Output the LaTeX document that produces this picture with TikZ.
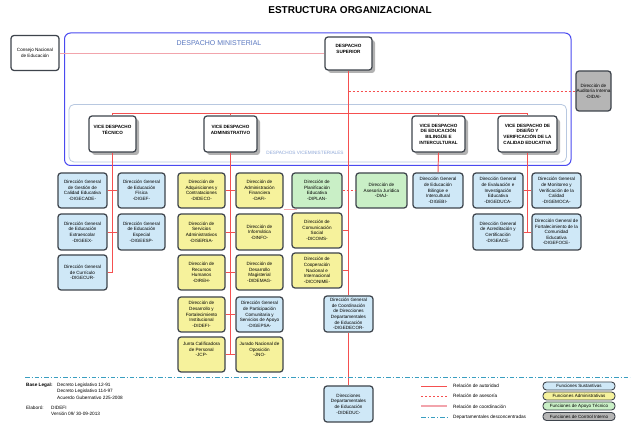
\documentclass[tikz,border=0pt]{standalone}
\usepackage{fontspec}
\setmainfont{Liberation Sans}
\usetikzlibrary{shadows}
\definecolor{susfill}{HTML}{CFE8F7}
\definecolor{admfill}{HTML}{F6F29C}
\definecolor{apofill}{HTML}{C9EFC6}
\definecolor{ctlfill}{HTML}{B5B5B5}
\definecolor{bord}{HTML}{3E444C}
\definecolor{authc}{HTML}{F55050}
\definecolor{coordc}{HTML}{F2A4AC}
\definecolor{deptc}{HTML}{3A9EC0}
\definecolor{minblue}{HTML}{4A4AF0}
\definecolor{vicec}{HTML}{B8C8E0}
\definecolor{mintxt}{HTML}{5A78C0}
\definecolor{vicetxt}{HTML}{8FA8D8}
\tikzset{
  unit/.style={draw=bord, line width=1.25pt, rounded corners=3pt, align=center,
    inner sep=0pt, font=\fontsize{4.6}{5.6}\selectfont},
  sus/.style={unit, fill=susfill},
  adm/.style={unit, fill=admfill},
  apo/.style={unit, fill=apofill},
  ctl/.style={unit, fill=ctlfill},
  plain/.style={unit, fill=white},
  vice/.style={unit, fill=white, font=\bfseries\fontsize{4.6}{5.7}\selectfont,
    drop shadow={shadow xshift=3pt, shadow yshift=-3pt, fill=black!30, opacity=1}},
  auth/.style={draw=authc, line width=0.95pt},
  asesor/.style={draw=authc, line width=0.8pt, dash pattern=on 2.4pt off 1.6pt},
  coordl/.style={draw=coordc, line width=1.1pt},
  deptl/.style={draw=deptc, line width=0.9pt, dash pattern=on 4.5pt off 2pt on 1pt off 2pt},
  legbox/.style={draw=bord, line width=0.9pt, rounded corners=3.5pt, inner sep=0pt,
    minimum width=72pt, minimum height=8pt, font=\fontsize{4.5}{5}\selectfont},
  legtxt/.style={anchor=west, inner sep=0pt, font=\fontsize{4.7}{5.5}\selectfont},
  foot/.style={anchor=west, inner sep=0pt, font=\fontsize{4.7}{5.5}\selectfont},
}
\newcommand\ubox[7]{\node[#2, minimum width={(#5-#3)*1pt}, minimum height={(#6-#4)*1pt}]
  (#1) at ({(#3+#5)/2},{(#4+#6)/2}) {#7};}
\begin{document}
\begin{tikzpicture}[x=1pt,y=-1pt]
\useasboundingbox[fill=white] (0,0) rectangle (640,427);

% title
\node[font=\bfseries\fontsize{10}{12}\selectfont, inner sep=0pt] (title) at (350,10) {ESTRUCTURA ORGANIZACIONAL};

% frames
\draw[minblue, line width=1pt, rounded corners=6pt] (64.5,33) rectangle (571,165.5);
\draw[vicec, line width=0.8pt, rounded corners=5pt] (69,104.5) rectangle (566.5,162);
\node[text=mintxt, font=\fontsize{7}{8}\selectfont, inner sep=0pt] (mintitle) at (219,43) {DESPACHO MINISTERIAL};
\node[text=vicetxt, font=\fontsize{4.7}{5.5}\selectfont, inner sep=0pt] (vicetitle) at (305,153) {DESPACHOS VICEMINISTERIALES};

% top level
\ubox{cne}{plain}{11}{35.5}{59}{70.5}{Consejo Nacional\\de Educación}
\ubox{ds}{vice}{325}{37}{372}{70}{DESPACHO\\SUPERIOR\\[4pt]}
\ubox{aud}{ctl}{576}{71}{611}{111}{Dirección de\\Auditoría Interna\\-DIDAI-}

% vice despachos
\ubox{vdt}{vice}{89}{116}{136}{152}{VICE DESPACHO\\TÉCNICO\\[3pt]}
\ubox{vda}{vice}{204}{116}{257}{152}{VICE DESPACHO\\ADMINISTRATIVO\\[3pt]}
\ubox{vdb}{vice}{412}{116}{465}{152}{VICE DESPACHO\\DE EDUCACIÓN\\BILINGÜE E\\INTERCULTURAL}
\ubox{vdd}{vice}{498}{116}{557}{152}{VICE DESPACHO DE\\DISEÑO Y\\VERIFICACIÓN DE LA\\CALIDAD EDUCATIVA}

% tecnico
\ubox{cade}{sus}{58}{173}{107}{208}{Dirección General\\de Gestión de\\Calidad Educativa\\-DIGECADE-}
\ubox{def}{sus}{118}{173}{165}{208}{Dirección General\\de Educación\\Física\\-DIGEF-}
\ubox{eex}{sus}{58}{214}{107}{250}{Dirección General\\de Educación\\Extraescolar\\-DIGEEX-}
\ubox{ees}{sus}{118}{214}{165}{250}{Dirección General\\de Educación\\Especial\\-DIGEESP-}
\ubox{cur}{sus}{58}{255}{107}{290}{Dirección General\\de Currículo\\-DIGECUR-}

% administrativo
\ubox{dideco}{adm}{178}{173}{225}{208}{Dirección de\\Adquisiciones y\\Contrataciones\\-DIDECO-}
\ubox{dafi}{adm}{236}{173}{283}{208}{Dirección de\\Administración\\Financiera\\-DAFI-}
\ubox{disersa}{adm}{178}{214}{225}{250}{Dirección de\\Servicios\\Administrativos\\-DISERSA-}
\ubox{dinfo}{adm}{236}{214}{283}{250}{Dirección de\\Informática\\-DINFO-}
\ubox{direh}{adm}{178}{255}{225}{290}{Dirección de\\Recursos\\Humanos\\-DIREH-}
\ubox{didemag}{adm}{236}{255}{283}{290}{Dirección de\\Desarrollo\\Magisterial\\-DIDEMAG-}
\ubox{didefi}{adm}{178}{297}{225}{332}{Dirección de\\Desarrollo y\\Fortalecimiento\\Institucional\\-DIDEFI-}
\ubox{digepsa}{sus}{236}{297}{283}{332}{Dirección General\\de Participación\\Comunitaria y\\Servicios de Apoyo\\-DIGEPSA-}
\ubox{jcp}{adm}{178}{337}{225}{372}{Junta Calificadora\\de Personal\\-JCP-\\[4pt]}
\ubox{jno}{adm}{236}{337}{283}{372}{Jurado Nacional de\\Oposición\\-JNO-\\[4pt]}

% despacho superior column
\ubox{diplan}{apo}{292}{173}{342}{208}{Dirección de\\Planificación\\Educativa\\-DIPLAN-}
\ubox{dicoms}{adm}{292}{213}{342}{248}{Dirección de\\Comunicación\\Social\\-DICOMS-}
\ubox{diconime}{adm}{292}{253}{342}{288}{Dirección de\\Cooperación\\Nacional e\\Internacional\\-DICONIME-}
\ubox{diaj}{apo}{356}{173}{407}{208}{Dirección de\\Asesoría Jurídica\\-DIAJ-}
\ubox{decor}{sus}{324}{296}{373}{332}{Dirección General\\de Coordinación\\de Direcciones\\Departamentales\\de Educación\\-DIGEDECOR-}
\ubox{dideduc}{sus}{324}{386}{373}{422}{Direcciones\\Departamentales\\de Educación\\-DIDEDUC-}

% bilingue
\ubox{digebi}{sus}{413}{173}{463}{208}{Dirección General\\de Educación\\Bilingüe e\\Intercultural\\-DIGEBI-}

% diseno
\ubox{digeduca}{sus}{473}{173}{523}{208}{Dirección General\\de Evaluación e\\Investigación\\Educativa\\-DIGEDUCA-}
\ubox{digemoca}{sus}{532}{173}{581}{208}{Dirección General\\de Monitoreo y\\Verificación de la\\Calidad\\-DIGEMOCA-}
\ubox{digeace}{sus}{473}{214}{523}{250}{Dirección General\\de Acreditación y\\Certificación\\-DIGEACE-}
\ubox{digefoce}{sus}{532}{214}{581}{250}{Dirección General de\\Fortalecimiento de la\\Comunidad\\Educativa\\-DIGEFOCE-}

% connectors
\coordinate (hl) at (0,113);
\draw[coordl, line width=0.7pt] (cne.east) -- (cne.east -| ds.west);
\draw[auth] (ds.south) -- (decor.north);
\draw[auth] (decor.south) -- (dideduc.north);
\draw[asesor] (ds.south |- aud.west) -- (aud.west);
\draw[auth] (vdt.north) -- (vdt.north |- hl) -- (vdd.north |- hl) -- (vdd.north);
\draw[auth] (vda.north) -- (vda.north |- hl);
\draw[auth] (vdb.north) -- (vdb.north |- hl);
% tecnico
\draw[auth] (vdt.south) -- (vdt.south |- cur.east);
\draw[auth] (cade.east) -- (def.west);
\draw[auth] (eex.east) -- (ees.west);
\draw[auth] (cur.east) -- (cur.east -| vdt.south);
% administrativo
\draw[auth] (vda.south) -- (vda.south |- jcp.east);
\draw[auth] (dideco.east) -- (dafi.west);
\draw[auth] (disersa.east) -- (dinfo.west);
\draw[auth] (direh.east) -- (didemag.west);
\draw[auth] (didefi.east) -- (digepsa.west);
\draw[auth] (jcp.east) -- (jno.west);
\draw[coordl] ([yshift=-1pt]dafi.south east) -- ([yshift=-1pt,xshift=6pt]diplan.south west);
% superior column
\draw[asesor] (diplan.east) -- (diaj.west);
\draw[auth] (dicoms.east) -- (dicoms.east -| ds.south);
\draw[auth] (diconime.east) -- (diconime.east -| ds.south);
% bilingue
\draw[auth] (vdb.south) -- (digebi.north);
% diseno
\draw[auth] (vdd.south) -- (vdd.south |- digeace.east);
\draw[auth] (digeduca.east) -- (digemoca.west);
\draw[auth] (digeace.east) -- (digefoce.west);

% departamental line
\coordinate (dl1) at (25,377);
\coordinate (dl2) at (630,377);
\draw[deptl] (dl1) -- (dl2);

% footer text
\node[foot, font=\bfseries\fontsize{4.7}{5.5}\selectfont] (bl) at (26,385) {Base Legal:};
\node[foot] (bl1) at (57,385) {Decreto Legislativo 12-91};
\node[foot] (bl2) at (57,391.5) {Decreto Legislativo 114-97};
\node[foot] (bl3) at (57,397.5) {Acuerdo Gubernativo 225-2008};
\node[foot] (el) at (26,408) {Elaboró:};
\node[foot] (el1) at (51,408) {DIDEFI};
\node[foot] (el2) at (51,414) {Versión 09/ 30-09-2013};

% legend
\coordinate (la1) at (421,386); \coordinate (lb1) at (447,386);
\coordinate (la2) at (421,396); \coordinate (lb2) at (447,396);
\coordinate (la3) at (421,406); \coordinate (lb3) at (447,406);
\coordinate (la4) at (421,417); \coordinate (lb4) at (447,417);
\draw[auth] (la1) -- (lb1);
\draw[asesor] (la2) -- (lb2);
\draw[coordl, line width=1.4pt] (la3) -- (lb3);
\draw[deptl] (la4) -- (lb4);
\node[legtxt] (lt1) at (453,386) {Relación de autoridad};
\node[legtxt] (lt2) at (453,396) {Relación de asesoría};
\node[legtxt] (lt3) at (453,406.5) {Relación de coordinación};
\node[legtxt] (lt4) at (453,417) {Departamentales desconcentradas};
\node[legbox, fill=susfill] (lg1) at (579,386) {Funciones Sustantivas};
\node[legbox, fill=admfill] (lg2) at (579,396) {Funciones Administrativas};
\node[legbox, fill=apofill] (lg3) at (579,406) {Funciones de Apoyo Técnico};
\node[legbox, fill=ctlfill] (lg4) at (579,416.5) {Funciones de Control Interno};
\end{tikzpicture}
\end{document}
